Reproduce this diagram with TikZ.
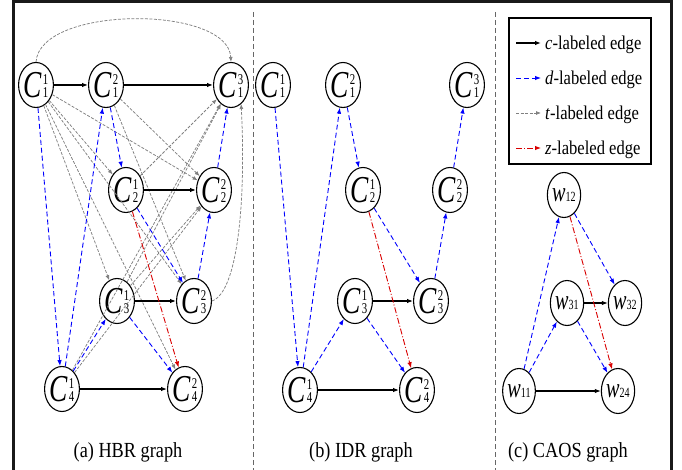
\documentclass[tikz,border=0pt]{standalone}
\usepackage{fontspec}
\setmainfont{Liberation Serif}[FakeStretch=0.85]
\newfontfamily\nodefont{Liberation Serif}[FakeStretch=0.72]
\usetikzlibrary{shapes.geometric,arrows.meta}

% C^{sup}_{sub} label set as text: letter followed by a two-row digit stack
\newcommand\Cij[2]{{\nodefont\fontsize{38}{38}\selectfont\itshape C}\kern1pt{\nodefont\fontsize{15}{13.5}\selectfont\shortstack{#2\\#1}}}
% w_{ij} label
\newcommand\Wij[1]{{\nodefont\fontsize{28}{28}\selectfont\itshape w}{\nodefont\fontsize{14}{14}\selectfont #1}}

\tikzset{
  gnode/.style={ellipse, draw, line width=1.1pt, minimum width=29pt, minimum height=45pt, inner sep=0pt},
  cedge/.style={-{Latex[length=6pt,width=4.5pt]}, line width=1.1pt, black},
  dedge/.style={-{Latex[length=6pt,width=4.5pt]}, line width=0.9pt, blue, dash pattern=on 5pt off 3pt},
  tedge/.style={-{Latex[length=5pt,width=4pt]}, line width=0.75pt, black!50, dash pattern=on 3pt off 1.5pt},
  zedge/.style={-{Latex[length=6pt,width=4.5pt]}, line width=0.9pt, red!85!black, dash pattern=on 6pt off 2pt on 1pt off 2pt},
  caption/.style={anchor=base, font=\fontsize{21.5}{21.5}\selectfont},
  legtext/.style={anchor=base west, font=\fontsize{19.5}{19.5}\selectfont, inner sep=0pt},
  sep/.style={black!60, line width=1pt, dash pattern=on 5pt off 3pt},
  frameline/.style={black!90, line width=3pt},
}

\begin{document}
\begin{tikzpicture}[x=1pt, y=-1pt]
\useasboundingbox (0,0) rectangle (682,470);

% outer frame (top, left, right)
\draw[frameline] (12,1.5) -- (673,1.5);
\draw[frameline] (13.5,0) -- (13.5,470);
\draw[frameline] (671.5,0) -- (671.5,470);

% panel separators
\draw[sep] (253,12) -- (253,470);
\draw[sep] (495,12) -- (495,470);

% ---------------- (a) HBR graph ----------------
\node[gnode] (a11) at (36,85)  {\Cij{1}{1}};
\node[gnode] (a12) at (106,85) {\Cij{1}{2}};
\node[gnode] (a13) at (231,85) {\Cij{1}{3}};
\node[gnode] (a21) at (126,190) {\Cij{2}{1}};
\node[gnode] (a22) at (214,190) {\Cij{2}{2}};
\node[gnode] (a31) at (117,301) {\Cij{3}{1}};
\node[gnode] (a32) at (194,301) {\Cij{3}{2}};
\node[gnode] (a41) at (62,389) {\Cij{4}{1}};
\node[gnode] (a42) at (185,389) {\Cij{4}{2}};

% t-labeled edges
\draw[tedge] (a11.north) .. controls (40,5) and (228,5) .. (a13.north);
\draw[tedge] (a11) -- (a21);
\draw[tedge] (a11) -- (a22);
\draw[tedge] (a11) -- (a31);
\draw[tedge] (a11) -- (a32);
\draw[tedge] (a11) -- (a42);
\draw[tedge] (a12) -- (a22);
\draw[tedge] (a12) -- (a32);
\draw[tedge] (a21) -- (a13);
\draw[tedge] (a31) -- (a13);
\draw[tedge] (a41) -- (a13);
\draw[tedge] (a31) -- (a22);
\draw[tedge] (a41) -- (a22);
\draw[tedge] (a32.east) .. controls (238,292) and (246,200) .. (a13.-62);

% c-labeled edges
\draw[cedge] (a11) -- (a12);
\draw[cedge] (a12) -- (a13);
\draw[cedge] (a21) -- (a22);
\draw[cedge] (a31) -- (a32);
\draw[cedge] (a41) -- (a42);

% d-labeled edges
\draw[dedge] (a11) -- (a41);
\draw[dedge] (a41) -- (a12);
\draw[dedge] (a12) -- (a21);
\draw[dedge] (a21) -- (a32);
\draw[dedge] (a32) -- (a22);
\draw[dedge] (a22) -- (a13);
\draw[dedge] (a41) -- (a31);
\draw[dedge] (a31) -- (a42);

% z-labeled edge
\draw[zedge] (a21) -- (a42);

\node[caption] (capa) at (128,457) {(a) HBR graph};

% ---------------- (b) IDR graph ----------------
\node[gnode] (b11) at (273,85)  {\Cij{1}{1}};
\node[gnode] (b12) at (343,85)  {\Cij{1}{2}};
\node[gnode] (b13) at (467,85)  {\Cij{1}{3}};
\node[gnode] (b21) at (363,190) {\Cij{2}{1}};
\node[gnode] (b22) at (450,190) {\Cij{2}{2}};
\node[gnode] (b31) at (355,301) {\Cij{3}{1}};
\node[gnode] (b32) at (431,301) {\Cij{3}{2}};
\node[gnode] (b41) at (300,390) {\Cij{4}{1}};
\node[gnode] (b42) at (417,390) {\Cij{4}{2}};

\draw[cedge] (b31) -- (b32);
\draw[cedge] (b41) -- (b42);

\draw[dedge] (b11) -- (b41);
\draw[dedge] (b41) -- (b12);
\draw[dedge] (b12) -- (b21);
\draw[dedge] (b21) -- (b32);
\draw[dedge] (b32) -- (b22);
\draw[dedge] (b22) -- (b13);
\draw[dedge] (b41) -- (b31);
\draw[dedge] (b31) -- (b42);

\draw[zedge] (b21) -- (b42);

\node[caption] (capb) at (361,457) {(b) IDR graph};

% ---------------- (c) CAOS graph ----------------
\node[gnode] (w12) at (564,195) {\Wij{12}};
\node[gnode] (w31) at (567,303) {\Wij{31}};
\node[gnode] (w32) at (625,303) {\Wij{32}};
\node[gnode] (w11) at (519,391) {\Wij{11}};
\node[gnode] (w24) at (618,391) {\Wij{24}};

\draw[cedge] (w31) -- (w32);
\draw[cedge] (w11) -- (w24);

\draw[dedge] (w11) -- (w12);
\draw[dedge] (w11) -- (w31);
\draw[dedge] (w12) -- (w32);
\draw[dedge] (w31) -- (w24);

\draw[zedge] (w12) -- (w24);

\node[caption] (capc) at (568,457) {(c) CAOS graph};

% legend
\node[draw, line width=1.1pt, minimum width=142pt, minimum height=146pt, inner sep=0pt] (legend) at (580,91) {};
\coordinate (l1s) at (516,43);  \coordinate (l1e) at (541,43);
\coordinate (l2s) at (516,78);  \coordinate (l2e) at (541,78);
\coordinate (l3s) at (516,113); \coordinate (l3e) at (541,113);
\coordinate (l4s) at (516,148); \coordinate (l4e) at (541,148);
\draw[cedge] (l1s) -- (l1e);
\draw[dedge] (l2s) -- (l2e);
\draw[tedge] (l3s) -- (l3e);
\draw[zedge] (l4s) -- (l4e);
\node[legtext] (t1) at (545,50)  {\textit{c}-labeled edge};
\node[legtext] (t2) at (545,85)  {\textit{d}-labeled edge};
\node[legtext] (t3) at (545,120) {\textit{t}-labeled edge};
\node[legtext] (t4) at (545,155) {\textit{z}-labeled edge};
\end{tikzpicture}
\end{document}
